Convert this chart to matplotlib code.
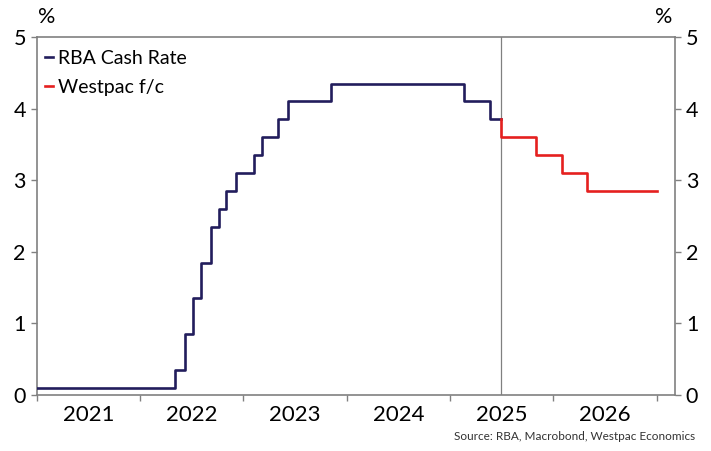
import numpy as np
import pandas as pd
import matplotlib
matplotlib.use("Agg")
import matplotlib.pyplot as plt
import matplotlib.dates as mdates

plt.rcParams['font.family'] = ['Lato', 'DejaVu Sans']

# RBA cash rate (step changes)
rba_dates = ['2021-01-01', '2022-05-04', '2022-06-08', '2022-07-06', '2022-08-03',
             '2022-09-07', '2022-10-05', '2022-11-02', '2022-12-07', '2023-02-08',
             '2023-03-08', '2023-05-03', '2023-06-07', '2023-11-08', '2025-02-19',
             '2025-05-21', '2025-07-01']
rba_vals = [0.10, 0.35, 0.85, 1.35, 1.85, 2.35, 2.60, 2.85, 3.10, 3.35,
            3.60, 3.85, 4.10, 4.35, 4.10, 3.85, 3.85]

# Westpac forecast
fc_dates = ['2025-07-01', '2025-07-01', '2025-11-01', '2026-02-01', '2026-05-01', '2027-01-01']
fc_vals = [3.85, 3.60, 3.35, 3.10, 2.85, 2.85]

years = [2021, 2022, 2023, 2024, 2025, 2026]
split_date = '2025-07-01'

navy = '#221d5c'
red = '#e5201f'
grey = '#808080'

fig = plt.figure(figsize=(7.11, 4.51), dpi=100)
ax = fig.add_axes([0.052, 0.124, 0.897, 0.794])

ax.step(pd.to_datetime(rba_dates), rba_vals, where='post', color=navy, lw=1.9,
        label='RBA Cash Rate', zorder=3)
ax.step(pd.to_datetime(fc_dates), fc_vals, where='post', color=red, lw=1.9,
        label='Westpac f/c', zorder=3)
ax.axvline(pd.Timestamp(split_date), color=grey, lw=0.9, zorder=1)

ax.set_ylim(0, 5)
ax.set_xlim(pd.Timestamp('2021-01-01'), pd.Timestamp('2027-03-06'))

# year boundaries as ticks, labels mid-year
ax.set_xticks([pd.Timestamp(f'{y}-01-01') for y in years + [2027]])
ax.set_xticklabels([])
ax.set_xticks([pd.Timestamp(f'{y}-07-02') for y in years], minor=True)
ax.set_xticklabels([str(y) for y in years], minor=True, fontsize=16)
ax.tick_params(axis='x', which='major', direction='out', length=4, color=grey, width=1)
ax.tick_params(axis='x', which='minor', length=0, pad=7)

ax.set_yticks(range(6))
ax.tick_params(axis='y', which='major', direction='out', length=4, color=grey, width=1,
               labelsize=15.5, pad=4, left=True, right=True, labelleft=True, labelright=True)

for s in ax.spines.values():
    s.set_color(grey)
    s.set_linewidth(1.2)

fig.text(0.066, 0.963, '%', fontsize=15.5, ha='center', va='center')
fig.text(0.934, 0.963, '%', fontsize=15.5, ha='center', va='center')

leg = ax.legend(loc='upper left', frameon=False, fontsize=14, handlelength=0.45,
                handletextpad=0.25, labelspacing=0.6, borderaxespad=0.0,
                bbox_to_anchor=(0.0, 0.985))

fig.text(0.977, 0.02, 'Source: RBA, Macrobond, Westpac Economics', fontsize=8.5,
         ha='right', va='bottom', color='#333333')

fig.savefig('out.png', dpi=100)
